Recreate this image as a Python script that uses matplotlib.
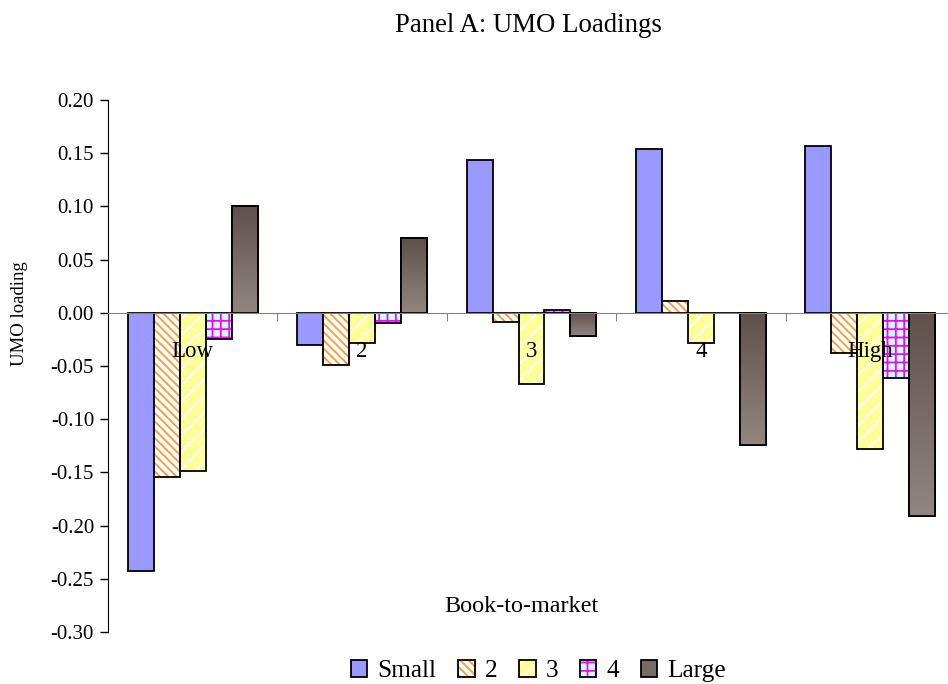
import numpy as np
import matplotlib
matplotlib.use("Agg")
import matplotlib.pyplot as plt
from matplotlib.colors import LinearSegmentedColormap
from matplotlib.patches import Patch

plt.rcParams['font.family'] = ['Liberation Serif', 'DejaVu Serif']
plt.rcParams['axes.unicode_minus'] = False
plt.rcParams['hatch.linewidth'] = 1.3

# UMO loadings by book-to-market category, one list per size group
categories = ["Low", "2", "3", "4", "High"]
series_names = ["Small", "2", "3", "4", "Large"]
small = [-0.243, -0.030, 0.144, 0.154, 0.157]
size2 = [-0.154, -0.049, -0.009, 0.011, -0.038]
size3 = [-0.149, -0.028, -0.067, -0.028, -0.128]
size4 = [-0.025, -0.010, 0.003, 0.000, -0.061]
large = [0.100, 0.070, -0.022, -0.124, -0.191]
series = [small, size2, size3, size4, large]
yticks = [-0.30, -0.25, -0.20, -0.15, -0.10, -0.05, 0.00, 0.05, 0.10, 0.15, 0.20]

# fill colour, hatch, hatch colour
styles = [("#9999FF", None, None),
          ("white", "\\\\\\\\", "#FF9933"),
          ("#FFFF99", "//", "white"),
          ("#CCFFFF", "++", "#FF00FF"),
          ("#776B66", None, None)]

fig = plt.figure(figsize=(9.48, 6.84), dpi=100)
ax = fig.add_axes([0.1139, 0.0760, 0.8935, 0.7778])

x = np.arange(len(categories))
w = 0.1534
grad_cmap = LinearSegmentedColormap.from_list("brown", ["#5E514C", "#928680"])
gradient = np.linspace(0, 1, 128).reshape(-1, 1)

for i, (vals, (fc, hatch, hc)) in enumerate(zip(series, styles)):
    pos = x + (i - 2) * w
    if hatch:
        ax.bar(pos, vals, w, color=fc, hatch=hatch, edgecolor=hc,
               linewidth=0, zorder=1)
        ax.bar(pos, vals, w, fill=False, edgecolor="black", linewidth=1.3,
               zorder=2)
    elif i == 4:
        bars = ax.bar(pos, vals, w, color=fc, edgecolor="black",
                      linewidth=1.3, zorder=1)
        for b in bars:
            y0, y1 = sorted([b.get_y(), b.get_y() + b.get_height()])
            im = ax.imshow(gradient, cmap=grad_cmap, aspect="auto",
                           extent=(b.get_x(), b.get_x() + w, y0, y1),
                           origin="upper", zorder=1.5)
            im.set_clip_path(b)
        ax.bar(pos, vals, w, fill=False, edgecolor="black", linewidth=1.3,
               zorder=2)
    else:
        ax.bar(pos, vals, w, color=fc, edgecolor="black", linewidth=1.3,
               zorder=1)

ax.set_xlim(-0.5, 4.5)
ax.set_ylim(-0.30, 0.20)
ax.set_yticks(yticks)
ax.set_yticklabels([f"{v:.2f}" for v in yticks], fontsize=15)
ax.tick_params(axis="y", direction="out", length=6, width=1, pad=4)

ax.spines["top"].set_visible(False)
ax.spines["right"].set_visible(False)
ax.spines["bottom"].set_position(("data", 0))
ax.spines["bottom"].set_color("#808080")
ax.spines["bottom"].set_zorder(3)
ax.set_xticks(np.arange(0.5, 5, 1))
ax.set_xticklabels([])
ax.set_xticks(x, minor=True)
ax.set_xticklabels(categories, minor=True, fontsize=16.5)
ax.tick_params(axis="x", which="major", direction="out", length=6,
               color="#808080")
ax.tick_params(axis="x", which="minor", length=0, pad=20)
for lbl in ax.get_xticklabels(minor=True):
    lbl.set_zorder(5)

fig.text(0.557, 0.963, "Panel A: UMO Loadings", ha="center", va="center",
         fontsize=19.3)
fig.text(0.5496, 0.1126, "Book-to-market", ha="center", va="center",
         fontsize=17.4)
fig.text(0.021, 0.541, "UMO loading", ha="center", va="center",
         rotation=90, fontsize=13.5)

handles = []
for name, (fc, hatch, hc) in zip(series_names, styles):
    if hatch:
        handles.append(Patch(facecolor=fc, hatch=hatch, edgecolor=hc,
                             linewidth=0))
    else:
        handles.append(Patch(facecolor=fc, edgecolor="black", linewidth=1.3))
outline = Patch(fill=False, edgecolor="black", linewidth=1.3)
handles = [(h, outline) if s[1] else h for h, s in zip(handles, styles)]
fig.legend(handles, series_names, loc="center", bbox_to_anchor=(0.568, 0.019),
           ncol=5, frameon=False, fontsize=18.3, handlelength=0.65,
           handleheight=0.65, handletextpad=0.4, columnspacing=0.85,
           borderpad=0)

fig.savefig("out.png", dpi=100)
